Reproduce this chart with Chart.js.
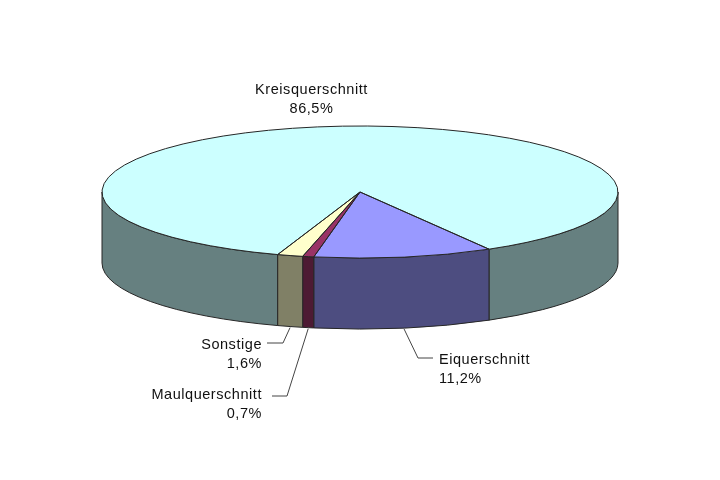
<!DOCTYPE html>
<html>
<head>
<meta charset="utf-8">
<style>html,body{margin:0;padding:0;background:#fff}canvas{display:block}</style>
<script src="https://cdn.jsdelivr.net/npm/chart.js@4"></script>
</head>
<body>
<canvas id="c" width="720" height="480"></canvas>
<script>
const categories = ["Kreisquerschnitt", "Eiquerschnitt", "Maulquerschnitt", "Sonstige"];
const shares = [86.5, 11.2, 0.7, 1.6];
const topColors = ["#CCFFFF", "#9999FF", "#993366", "#FFFFCC"];
const wallColors = ["#668080", "#4D4D80", "#4D1A33", "#808066"];

// layout of the tilted disc
const CX = 360, CY = 192, RX = 258, RY = 66, DEPTH = 71;
const LINE = "#262626", INK = "#111";
// label placement: anchor, align; elbow points of the leader (none for the first)
const labelLayout = [
  {x: 311.5, y: 94, align: "center", elbow: null},
  {x: 439, y: 364, align: "left", elbow: [[418, 358], [433, 358]]},
  {x: 262, y: 399, align: "right", elbow: [[287, 396], [272, 396]]},
  {x: 262, y: 349, align: "right", elbow: [[283, 343], [267, 343]]}
];

function fmt(v) { return v.toFixed(1).replace(".", ",") + "%"; }

const disc3d = {
  id: "disc3d",
  beforeDatasetsDraw(chart) {
    const ctx = chart.ctx;
    const arcs = chart.getDatasetMeta(0).data;
    ctx.save();
    ctx.lineWidth = 1;
    ctx.strokeStyle = LINE;
    arcs.forEach((arc, i) => {
      // front-facing part of each slice: angle ranges inside [0, PI] modulo 2PI
      for (let k = -1; k <= 2; k++) {
        const lo = Math.max(arc.startAngle, k * 2 * Math.PI);
        const hi = Math.min(arc.endAngle, k * 2 * Math.PI + Math.PI);
        if (hi <= lo) continue;
        ctx.beginPath();
        ctx.ellipse(CX, CY, RX, RY, 0, lo, hi);
        ctx.ellipse(CX, CY + DEPTH, RX, RY, 0, hi, lo, true);
        ctx.closePath();
        ctx.fillStyle = wallColors[i];
        ctx.fill();
        ctx.stroke();
      }
    });
    ctx.restore();
    const a = arcs[0];
    ctx.save();
    ctx.translate(CX, CY);
    ctx.scale(RX / a.outerRadius, RY / a.outerRadius);
    ctx.translate(-a.x, -a.y);
  },
  afterDatasetsDraw(chart) {
    const ctx = chart.ctx;
    ctx.restore();
    const arcs = chart.getDatasetMeta(0).data;
    ctx.save();
    ctx.lineWidth = 1;
    ctx.strokeStyle = LINE;
    arcs.forEach(arc => {
      ctx.beginPath();
      ctx.moveTo(CX, CY);
      ctx.ellipse(CX, CY, RX, RY, 0, arc.startAngle, arc.endAngle);
      ctx.closePath();
      ctx.stroke();
    });
    // labels and leaders
    ctx.font = '14.5px "Liberation Sans", Arial, sans-serif';
    ctx.letterSpacing = "0.55px";
    ctx.fillStyle = INK;
    arcs.forEach((arc, i) => {
      const L = labelLayout[i];
      ctx.textAlign = L.align;
      ctx.textBaseline = "alphabetic";
      ctx.fillText(categories[i], L.x, L.y);
      ctx.fillText(fmt(shares[i]), L.x, L.y + 18.5);
      if (L.elbow) {
        const mid = (arc.startAngle + arc.endAngle) / 2;
        ctx.beginPath();
        ctx.strokeStyle = "#444";
        ctx.moveTo(CX + RX * Math.cos(mid), CY + DEPTH + RY * Math.sin(mid) + 1);
        L.elbow.forEach(p => ctx.lineTo(p[0], p[1]));
        ctx.stroke();
      }
    });
    ctx.restore();
  }
};

new Chart(document.getElementById("c"), {
  type: "pie",
  data: {
    labels: categories,
    datasets: [{
      data: shares,
      backgroundColor: topColors,
      borderWidth: 0,
      hoverOffset: 0,
      clip: false
    }]
  },
  options: {
    responsive: false,
    animation: false,
    events: [],
    rotation: 198.6,
    layout: {padding: 0},
    plugins: {legend: {display: false}, tooltip: {enabled: false}, title: {display: false}}
  },
  plugins: [disc3d]
});
</script>
</body>
</html>
